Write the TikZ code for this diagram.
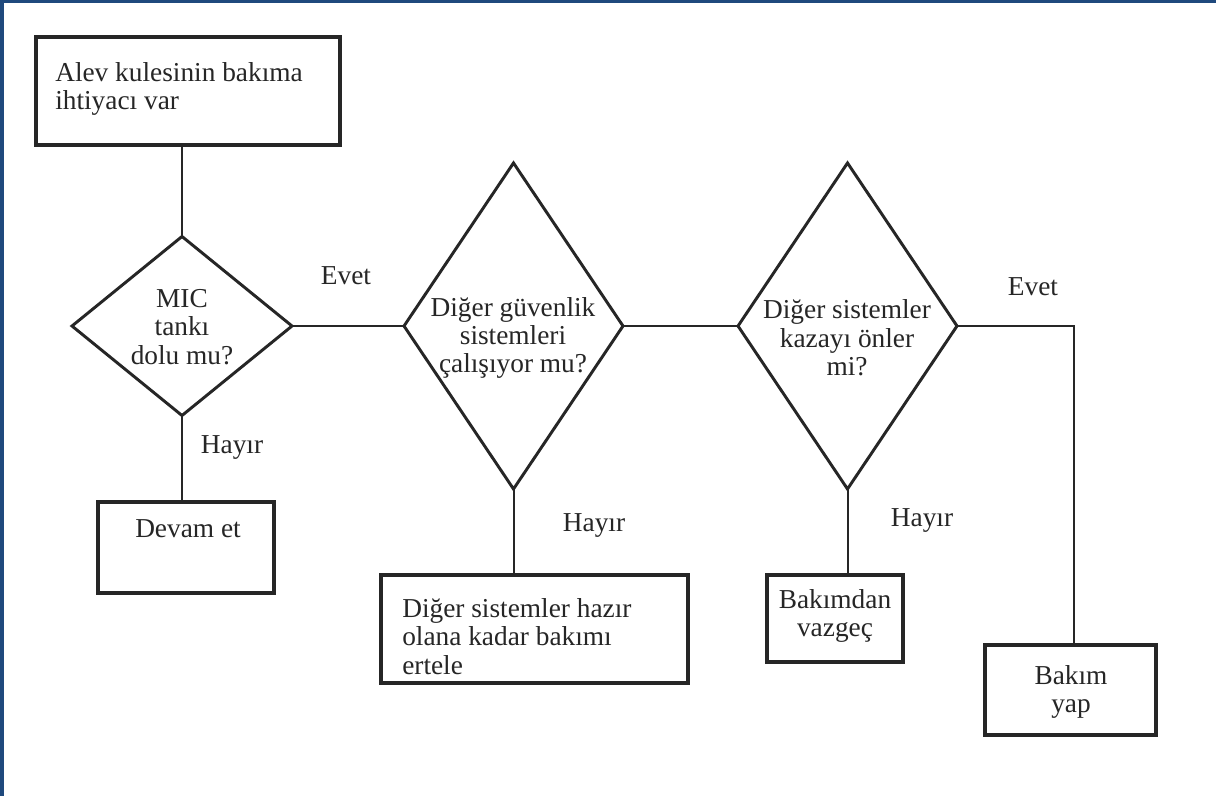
\documentclass[tikz,border=0pt]{standalone}
\usepackage{fontspec}
\setmainfont{Liberation Serif}
\usetikzlibrary{shapes.geometric}
\definecolor{frame}{HTML}{1F497D}
\definecolor{ink}{HTML}{262626}
\begin{document}
\begin{tikzpicture}[x=0.75pt,y=-0.75pt,
  box/.style={draw=ink, line width=2.6pt, inner sep=0pt, outer sep=0pt},
  dia/.style={draw=ink, diamond, line width=2.2pt, inner sep=0pt, outer sep=0pt},
  conn/.style={draw=ink, line width=1.5pt},
  txt/.style={text=ink, font=\fontsize{20.5}{21.3}\selectfont, inner sep=0pt, align=center},
  lab/.style={text=ink, font=\fontsize{20.5}{21.3}\selectfont, inner sep=0pt}]
\useasboundingbox (0,0) rectangle (1216,796);
\fill[white] (0,0) rectangle (1216,796);
\fill[frame] (0,0) rectangle (1216,3);
\fill[frame] (0,0) rectangle (4,796);

% boxes
\node[box, minimum width=304*0.75pt, minimum height=108*0.75pt] (b1) at (188,91) {};
\node[box, minimum width=176*0.75pt, minimum height=91*0.75pt] (b2) at (186,547.5) {};
\node[box, minimum width=307*0.75pt, minimum height=108*0.75pt] (b3) at (534.5,629) {};
\node[box, minimum width=136*0.75pt, minimum height=87*0.75pt] (b4) at (835,618.5) {};
\node[box, minimum width=171*0.75pt, minimum height=90*0.75pt] (b5) at (1070.5,690) {};

% diamonds
\node[dia, minimum width=220*0.75pt, minimum height=179*0.75pt] (d1) at (182,326) {};
\node[dia, minimum width=219*0.75pt, minimum height=326*0.75pt] (d2) at (513.5,326) {};
\node[dia, minimum width=219*0.75pt, minimum height=326*0.75pt] (d3) at (847.5,326) {};

% texts
\node[txt, align=left, anchor=north west] (t1) at (55,62) {Alev kulesinin bakıma\\ihtiyacı var};
\node[txt] (t2) at (188,529) {Devam et};
\node[txt, align=left, anchor=north west] (t3) at (402,598) {Diğer sistemler hazır\\olana kadar bakımı\\ertele};
\node[txt] (t4) at (835,616) {Bakımdan\\vazgeç};
\node[txt] (t5) at (1071,692) {Bakım\\yap};
\node[txt] (td1) at (182,327) {MIC\\tankı\\dolu mu?};
\node[txt] (td2) at (513,338) {Diğer güvenlik\\sistemleri\\çalışıyor mu?};
\node[txt] (td3) at (847,338) {Diğer sistemler\\kazayı önler\\mi?};

% labels
\node[lab] (l1) at (346,276) {Evet};
\node[lab] (l2) at (232,447) {Hayır};
\node[lab] (l3) at (594,525) {Hayır};
\node[lab] (l4) at (922,520) {Hayır};
\node[lab] (l5) at (1033,287) {Evet};

% connectors
\draw[conn] (d1.north) -- (d1.north |- b1.south);
\draw[conn] (d1.south) -- (d1.south |- b2.north);
\draw[conn] (d1.east) -- (d2.west);
\draw[conn] (d2.south) -- (d2.south |- b3.north);
\draw[conn] (d2.east) -- (d3.west);
\draw[conn] (d3.south) -- (d3.south |- b4.north);
\coordinate (c5) at (1074,326);
\draw[conn] (d3.east) -- (c5) -- (c5 |- b5.north);
\end{tikzpicture}
\end{document}
